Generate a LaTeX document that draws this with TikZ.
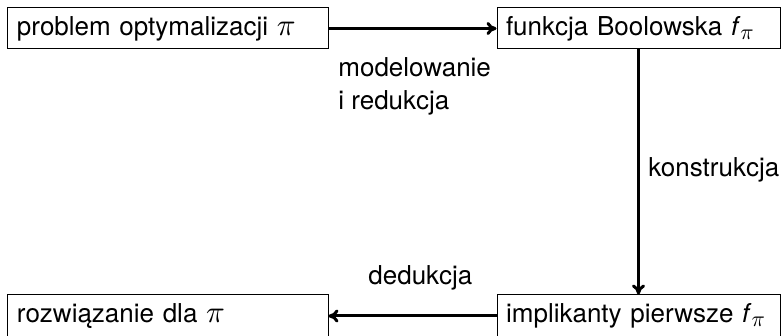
\documentclass[tikz,border=0pt]{standalone}
\usepackage{fontspec}
\setmainfont{TeX Gyre Heros}
\usetikzlibrary{arrows.meta}
% scalable math italic, set a little larger than the 13pt text
\DeclareFontShape{OML}{cmm}{m}{it}{<-8.5> cmmi7 <8.5-> cmmi10}{}
\DeclareMathSizes{13}{15.5}{11}{8}
\begin{document}
\begin{tikzpicture}[x=0.5pt,y=-0.5pt,
  every node/.style={font=\fontsize{13pt}{16.5pt}\selectfont},
  stagebox/.style={draw, line width=0.5pt, inner xsep=4.5pt, inner ysep=0pt,
    minimum height=20.5pt, align=left, text height=9.3pt, text depth=2.7pt},
  leftcol/.style={stagebox, text width=151pt},
  rightcol/.style={stagebox, text width=132.5pt},
  flow/.style={line width=1.5pt, -{To[length=5pt,width=6.5pt]}},
  steplabel/.style={inner sep=0pt, anchor=base west, align=left}]
  \useasboundingbox (0,0) rectangle (784,336);

  \node[leftcol] (prob) at (168,28.5) {problem optymalizacji $\pi$};
  \node[rightcol] (func) at (638.5,28.5) {funkcja Boolowska \textit{f}$_\pi$};
  \node[rightcol, minimum height=21pt] (impl) at (638.5,316) {implikanty pierwsze \textit{f}$_\pi$};
  \node[leftcol, minimum height=21pt] (sol) at (168,316) {rozwiązanie dla $\pi$};

  \draw[flow] (prob) -- (func);
  \draw[flow] (func) -- (impl);
  \draw[flow] (impl) -- (sol);

  % base of a two-line label sits on its last line
  \node[steplabel] (lmod) at (338,110) {modelowanie\\i redukcja};
  \node[steplabel] (lkon) at (648,177) {konstrukcja};
  \node[steplabel] (lded) at (368,285) {dedukcja};
\end{tikzpicture}
\end{document}
